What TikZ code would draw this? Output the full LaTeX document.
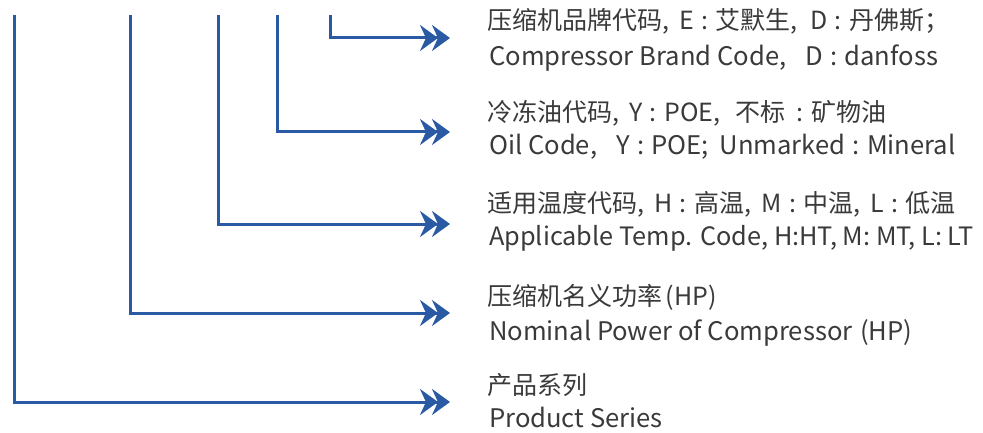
\documentclass[tikz,border=0pt]{standalone}
\usepackage{fontspec}
\setmainfont{Noto Sans CJK SC}
\usetikzlibrary{arrows.meta}
\definecolor{lineblue}{HTML}{2B5AA4}
\definecolor{txtgray}{HTML}{3A3A3A}
\newcommand{\zcm}{,\hspace{0.4em}}
\newcommand{\zcl}{\hspace{0.3em}:\hspace{0.3em}}
\newcommand{\ecm}{,\hspace{0.75em}}
\newcommand{\ecl}{\hspace{0.28em}:\hspace{0.28em}}
\tikzset{
  conn/.style={draw=lineblue, line width=3pt, line join=miter,
    -{Stealth[length=18pt,width=26pt,inset=6pt,sep=-6pt]Stealth[length=18pt,width=26pt,inset=6pt]}},
  lbl/.style={anchor=base west, inner sep=0pt, text=txtgray},
  cn/.style={lbl, font=\fontsize{25}{30}\selectfont},
  en/.style={lbl, font=\fontsize{25.6}{30}\selectfont},
}
\begin{document}
\begin{tikzpicture}[x=1pt,y=-1pt]
\useasboundingbox (0,0) rectangle (983,433);
% start points
\coordinate (s1) at (14.5,15);
\coordinate (s2) at (130,15);
\coordinate (s3) at (218.5,15);
\coordinate (s4) at (277,15);
\coordinate (s5) at (330,15);
% arrow ends
\coordinate (e1) at (450,402);
\coordinate (e2) at (450,313);
\coordinate (e3) at (450,224);
\coordinate (e4) at (450,132);
\coordinate (e5) at (450,38);
\draw[conn] (s1) |- (e1);
\draw[conn] (s2) |- (e2);
\draw[conn] (s3) |- (e3);
\draw[conn] (s4) |- (e4);
\draw[conn] (s5) |- (e5);
% labels
\node[cn] (c5) at (487,30) {压缩机品牌代码\zcm E\zcl 艾默生\zcm\hspace{0.1em}D\zcl 丹佛斯；};
\node[en] (n5) at (489,66) {Compressor Brand Code\ecm D\ecl danfoss};
\node[cn] (c4) at (487,122) {冷冻油代码\zcm Y\zcl POE\zcm\hspace{0.2em}不标\hspace{0.15em}\zcl 矿物油};
\node[en] (n4) at (489,155) {Oil Code\ecm Y\ecl POE;\hspace{0.2em} Unmarked\ecl Mineral};
\node[cn] (c3) at (487,212) {适用温度代码\zcm H\zcl 高温\zcm M\zcl 中温\zcm L\zcl 低温};
\node[en] (n3) at (489,245) {\fontsize{25.3}{30}\selectfont Applicable Temp. Code, H:HT, M: MT, L: LT};
\node[cn] (c2) at (487,305) {压缩机名义功率\hspace{0.15em}(HP)};
\node[en] (n2) at (489,340) {Nominal Power of Compressor\hspace{0.3em}(HP)};
\node[cn] (c1) at (487,394) {产品系列};
\node[en] (n1) at (489,427) {Product Series};
\end{tikzpicture}
\end{document}
